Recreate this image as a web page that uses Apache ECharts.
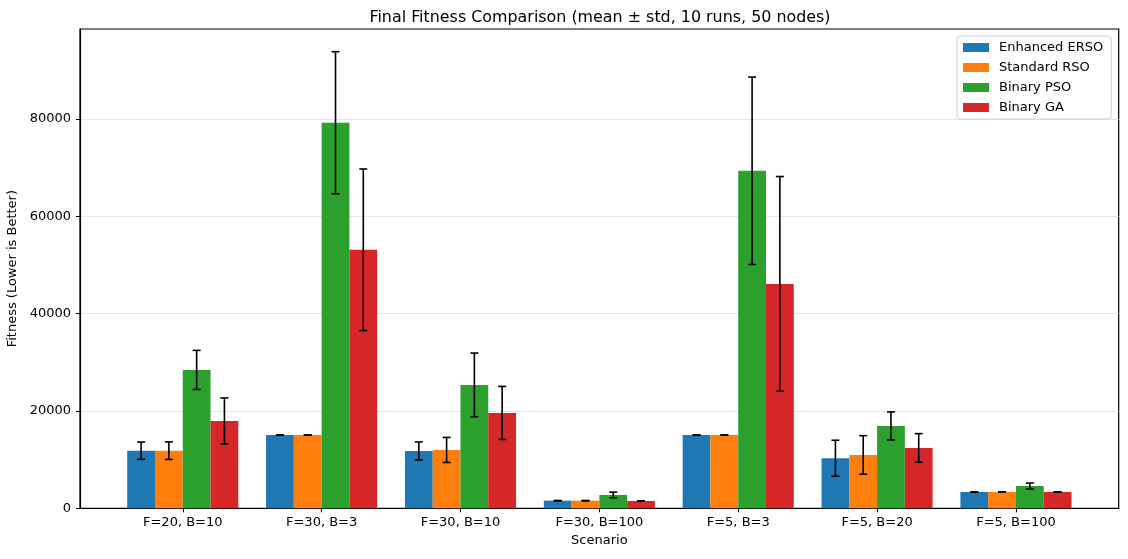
<!DOCTYPE html>
<html>
<head>
<meta charset="utf-8">
<script src="https://cdn.jsdelivr.net/npm/echarts@6/dist/echarts.min.js"></script>
<style>
  html, body { margin: 0; padding: 0; background: #fff; }
  #main { width: 1128px; height: 559px; }
</style>
</head>
<body>
<div id="main"></div>
<script>
var categories = ["F=20, B=10", "F=30, B=3", "F=30, B=10", "F=30, B=100", "F=5, B=3", "F=5, B=20", "F=5, B=100"];
var seriesNames = ["Enhanced ERSO", "Standard RSO", "Binary PSO", "Binary GA"];

// mean values
var ersoMean = [11840, 15050, 11780, 1570, 15050, 10280, 3350];
var rsoMean = [11840, 15050, 11990, 1570, 15050, 10960, 3350];
var psoMean = [28430, 79200, 25350, 2740, 69340, 16920, 4580];
var gaMean = [17940, 53100, 19590, 1500, 46100, 12400, 3350];

// std values
var ersoStd = [1780, 20, 1850, 40, 20, 3700, 40];
var rsoStd = [1800, 20, 2570, 40, 20, 3960, 40];
var psoStd = [4010, 14600, 6540, 580, 19250, 2880, 610];
var gaStd = [4730, 16600, 5450, 30, 22050, 2940, 30];

var yTicks = [0, 20000, 40000, 60000, 80000];

var colors = ["#1f77b4", "#ff7f0e", "#2ca02c", "#d62728"];
var means = [ersoMean, rsoMean, psoMean, gaMean];
var stds = [ersoStd, rsoStd, psoStd, gaStd];
var barW = 0.2;
var font = "DejaVu Sans";

var myChart = echarts.init(document.getElementById("main"));

var series = [];
seriesNames.forEach(function (name, j) {
  var off = (j - 1.5) * barW;
  var data = means[j].map(function (v, i) { return [i + off, v, stds[j][i]]; });
  // bars
  series.push({
    name: name,
    type: "custom",
    itemStyle: { color: colors[j] },
    data: data,
    z: 2,
    renderItem: function (params, api) {
      var x = api.value(0), v = api.value(1);
      var p0 = api.coord([x - barW / 2, v]);
      var p1 = api.coord([x + barW / 2, 0]);
      return {
        type: "rect",
        shape: { x: p0[0], y: p0[1], width: p1[0] - p0[0], height: p1[1] - p0[1] },
        style: { fill: colors[j] }
      };
    }
  });
  // error bars
  series.push({
    name: name + " err",
    type: "custom",
    data: data,
    z: 3,
    silent: true,
    renderItem: function (params, api) {
      var x = api.value(0), v = api.value(1), s = api.value(2);
      var top = api.coord([x, v + s]);
      var bot = api.coord([x, v - s]);
      var cap = 4;
      var st = { stroke: "#000", lineWidth: 1.6 };
      return {
        type: "group",
        children: [
          { type: "line", shape: { x1: top[0], y1: top[1], x2: bot[0], y2: bot[1] }, style: st },
          { type: "line", shape: { x1: top[0] - cap, y1: top[1], x2: top[0] + cap, y2: top[1] }, style: st },
          { type: "line", shape: { x1: bot[0] - cap, y1: bot[1], x2: bot[0] + cap, y2: bot[1] }, style: st }
        ]
      };
    }
  });
});

var option = {
  animation: false,
  backgroundColor: "#fff",
  textStyle: { fontFamily: font },
  title: {
    text: "Final Fitness Comparison (mean \u00b1 std, 10 runs, 50 nodes)",
    left: 595, textAlign: "center", top: 5,
    textStyle: { fontFamily: font, fontSize: 15.9, fontWeight: "normal", color: "#000" }
  },
  legend: {
    data: seriesNames.map(function (n) { return { name: n, icon: "rect" }; }),
    orient: "vertical",
    left: 957, top: 36,
    itemWidth: 26, itemHeight: 9, itemGap: 5,
    padding: [4, 8, 4, 6],
    borderColor: "#d0d0d0", borderWidth: 1, borderRadius: 3,
    backgroundColor: "#fff",
    textStyle: { fontFamily: font, fontSize: 13, color: "#000", padding: [0, 0, 0, 5], lineHeight: 15 }
  },
  grid: {
    left: 80, top: 29, width: 1038.7, height: 479.3,
    show: true, borderColor: "#000", borderWidth: 1.2,
    containLabel: false, outerBoundsMode: "none"
  },
  xAxis: {
    type: "value",
    min: -0.74, max: 6.74,
    name: "Scenario",
    nameLocation: "middle", nameGap: 26,
    nameTextStyle: { fontFamily: font, fontSize: 13, color: "#000" },
    axisLine: { show: true, onZero: false, lineStyle: { color: "#000", width: 1.2 } },
    axisTick: { show: true, length: 4, lineStyle: { color: "#000" }, customValues: [0, 1, 2, 3, 4, 5, 6] },
    axisLabel: {
      customValues: [0, 1, 2, 3, 4, 5, 6],
      formatter: function (v) { return categories[Math.round(v)] || ""; },
      fontFamily: font, fontSize: 13, color: "#000", margin: 8
    },
    splitLine: { show: false }
  },
  yAxis: {
    type: "value",
    min: 0, max: 98460,
    interval: 20000,
    name: "Fitness (Lower is Better)",
    nameLocation: "middle", nameGap: 58,
    nameTextStyle: { fontFamily: font, fontSize: 13, color: "#000" },
    axisLine: { show: true, onZero: false, lineStyle: { color: "#000", width: 1.2 } },
    axisTick: { show: true, length: 4, lineStyle: { color: "#000" }, customValues: yTicks },
    axisLabel: {
      customValues: yTicks,
      fontFamily: font, fontSize: 13, color: "#000", margin: 9,
      formatter: function (v) { return String(v); }
    },
    splitLine: { show: true, lineStyle: { color: "#e6e6e6", width: 1 } }
  },
  series: series
};

myChart.setOption(option);
</script>
</body>
</html>
